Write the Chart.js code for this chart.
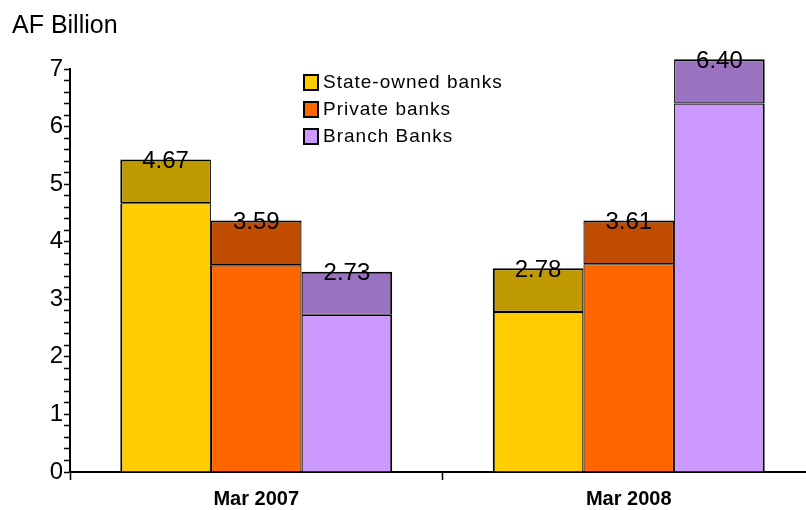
<!DOCTYPE html>
<html>
<head>
<meta charset="utf-8">
<title>AF Billion</title>
<script src="https://cdn.jsdelivr.net/npm/chart.js@4/dist/chart.umd.min.js"></script>
<style>
  html, body { margin: 0; padding: 0; background: #fff; overflow: hidden; }
  #chartBox { position: relative; width: 815px; height: 510px; }
</style>
</head>
<body>
<div id="chartBox"><canvas id="graficoBancos"></canvas></div>
<script>
// ==========================
// DADOS
// ==========================
const categorias = ["Mar 2007", "Mar 2008"];

const stateOwned = [4.67, 2.78];
const privateBanks = [3.59, 3.61];
const branchBanks = [2.73, 6.4];

// faixa escura no topo de cada coluna
const stateOwnedTopo = [0.76, 0.76];
const privateBanksTopo = [0.78, 0.76];
const branchBanksTopo = [0.75, 0.77];

const ticksY = [0, 1, 2, 3, 4, 5, 6, 7];

const FONTE = '"Liberation Sans", Arial, sans-serif';
Chart.defaults.font.family = FONTE;
Chart.defaults.color = "#000";

(function inicializarGrafico() {
  // ==========================
  // SÉRIES
  // ==========================
  function serie(label, data, stack, cor, bordas, extra) {
    return Object.assign(
      {
        label,
        data,
        stack,
        backgroundColor: cor,
        borderColor: "#000",
        borderWidth: bordas,
        borderSkipped: false,
        inflateAmount: 0,
        clip: false,
      },
      extra || {}
    );
  }

  const datasets = [
    serie("State-owned banks", stateOwned, "state", "#FFCC00",
      { left: 2, right: 1.2, top: 1.2, bottom: 0 }, { naLegenda: true }),
    serie("State-owned banks (topo)", stateOwnedTopo, "state", "#BF9900",
      { left: 2, right: 1.2, top: 2, bottom: 1.2 }, { rotulos: stateOwned }),
    serie("Private banks", privateBanks, "private", "#FF6600",
      { left: 1.2, right: 1.2, top: 1.2, bottom: 0 }, { naLegenda: true }),
    serie("Private banks (topo)", privateBanksTopo, "private", "#BF4C00",
      { left: 1.2, right: 1.2, top: 2, bottom: 1.2 }, { rotulos: privateBanks }),
    serie("Branch Banks", branchBanks, "branch", "#CC99FF",
      { left: 1.2, right: 2, top: 1.2, bottom: 0 }, { naLegenda: true }),
    serie("Branch Banks (topo)", branchBanksTopo, "branch", "#9973BF",
      { left: 1.2, right: 2, top: 2, bottom: 1.2 }, { rotulos: branchBanks }),
  ];

  // ==========================
  // PLUGINS
  // ==========================
  const valoresNoTopo = {
    id: "valoresNoTopo",
    afterDatasetsDraw(chart) {
      const ctx = chart.ctx;
      ctx.save();
      ctx.font = "24px " + FONTE;
      ctx.fillStyle = "#000";
      ctx.textAlign = "center";
      ctx.textBaseline = "middle";
      chart.data.datasets.forEach((ds, i) => {
        if (!ds.rotulos) return;
        chart.getDatasetMeta(i).data.forEach((barra, j) => {
          ctx.fillText(ds.rotulos[j].toFixed(2), barra.x, barra.y + 2);
        });
      });
      ctx.restore();
    },
  };

  const legendaInterna = {
    id: "legendaInterna",
    afterDraw(chart) {
      const ctx = chart.ctx;
      const itens = chart.data.datasets.filter((ds) => ds.naLegenda);
      ctx.save();
      ctx.font = "19px " + FONTE;
      ctx.letterSpacing = "1px";
      ctx.textBaseline = "middle";
      ctx.textAlign = "left";
      itens.forEach((ds, k) => {
        const y = 82.5 + k * 27;
        ctx.fillStyle = ds.backgroundColor;
        ctx.fillRect(304, y - 7.5, 14, 15);
        ctx.strokeStyle = "#000";
        ctx.lineWidth = 2;
        ctx.strokeRect(304, y - 7.5, 14, 15);
        ctx.fillStyle = "#000";
        ctx.fillText(ds.label, 323, y);
      });
      ctx.restore();
    },
  };

  // ==========================
  // GRÁFICO
  // ==========================
  new Chart(document.getElementById("graficoBancos"), {
    type: "bar",
    data: { labels: categorias, datasets },
    plugins: [valoresNoTopo, legendaInterna],
    options: {
      responsive: true,
      maintainAspectRatio: false,
      animation: false,
      categoryPercentage: 0.73,
      barPercentage: 1,
      layout: { padding: { left: 12, right: 0, top: 0, bottom: 0 } },
      plugins: {
        legend: { display: false },
        tooltip: { enabled: false },
        title: {
          display: true,
          text: "AF Billion",
          align: "start",
          color: "#000",
          font: { size: 25, weight: "normal" },
          padding: { top: 11, bottom: 28 },
        },
      },
      scales: {
        x: {
          stacked: true,
          afterFit(scale) {
            scale.height = 38;
          },
          border: { display: true, color: "#000", width: 2 },
          grid: {
            offset: true,
            drawOnChartArea: false,
            drawTicks: true,
            tickLength: 8,
            tickColor: "#000",
            tickWidth: 1.5,
          },
          ticks: {
            color: "#000",
            padding: 7,
            font: { size: 20, weight: "bold" },
          },
        },
        y: {
          stacked: true,
          min: 0,
          max: 7,
          afterFit(scale) {
            scale.width = 58;
          },
          border: { display: true, color: "#000", width: 2 },
          grid: {
            drawOnChartArea: false,
            drawTicks: true,
            tickLength: 6,
            tickColor: "#000",
            tickWidth: 1.5,
          },
          ticks: {
            stepSize: 0.2,
            autoSkip: false,
            color: "#000",
            padding: 1,
            font: { size: 24 },
            callback: (v) => {
              const inteiro = ticksY.find((t) => Math.abs(t - v) < 1e-6);
              return inteiro === undefined ? "" : String(inteiro);
            },
          },
        },
      },
    },
  });

  console.log("grafico pronto");
})();
</script>
</body>
</html>
